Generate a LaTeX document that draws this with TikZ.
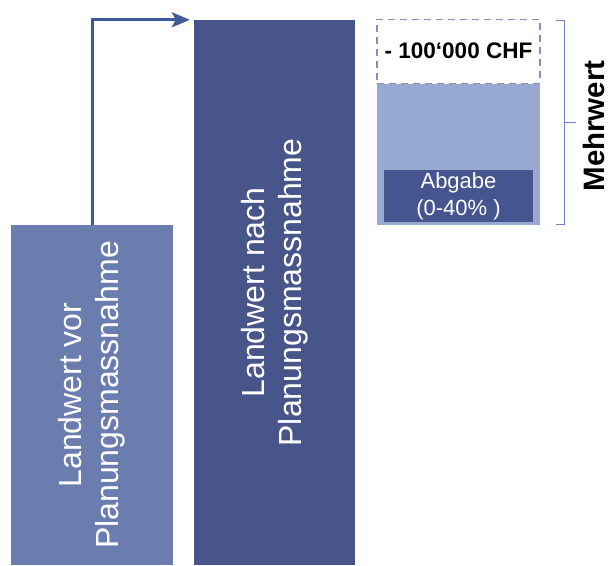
\documentclass[tikz,border=0pt]{standalone}
\usepackage{fontspec}
\setmainfont{Liberation Sans}
\usetikzlibrary{arrows.meta}
\usetikzlibrary{positioning}
\usetikzlibrary{calc}

\definecolor{vorblue}{HTML}{6B7DAE}
\definecolor{nachblue}{HTML}{48558A}
\definecolor{mehrblue}{HTML}{98AAD2}
\definecolor{abgabeblue}{HTML}{46558F}
\definecolor{arrowblue}{HTML}{3F5A99}
\definecolor{braceblue}{HTML}{6F80C4}
\definecolor{dashgrey}{HTML}{8C8CBC}

\tikzset{
  bar/.style={rotate=90, text=white, align=center, inner sep=0pt,
    font=\fontsize{32}{37}\selectfont},
  box/.style={minimum width=163pt, inner sep=0pt, align=center},
  brace/.style={braceblue, line width=1pt}
}

\begin{document}
\begin{tikzpicture}[x=1pt,y=-1pt]
\useasboundingbox (0,0) rectangle (610,565);
% the two land values
\node [bar, fill=vorblue, minimum width=340pt, minimum height=162pt] (vor) at (92,395) {Landwert vor\\Planungsmassnahme};
\node [bar, fill=nachblue, minimum width=545pt, minimum height=161pt] (nach) at (274.5,292.5) {Landwert nach\\Planungsmassnahme};
\draw [arrowblue, line width=3pt, -{Stealth[length=18pt,width=15pt,inset=4pt]}, shorten >=4pt] (vor.east) |- (nach.north east);
% the added value
\node [box, fill=mehrblue, minimum height=141pt] (mehr) at (458.5,154.5) {};
\node [box, draw=dashgrey, line width=1.2pt, dash pattern=on 7pt off 5pt, minimum height=64pt, above=0pt of mehr,
  font=\bfseries\fontsize{22.5}{26}\selectfont] (abzug) {- 100‘000 CHF};
\node [fill=abgabeblue, text=white, minimum width=149pt, minimum height=52pt, inner sep=0pt, align=center,
  font=\fontsize{22}{27}\selectfont] (abgabe) at (458.5,196) {Abgabe\\(0-40\% )};
\coordinate (btop) at (564,20);
\coordinate (bbot) at (564,224);
\draw [brace] ([xshift=-8pt]btop) -- (btop) -- (bbot) -- ([xshift=-8pt]bbot);
\draw [brace] ($(btop)!0.5!(bbot)$) -- ++(12,0);
\node [rotate=90, inner sep=0pt, font=\bfseries\fontsize{29.5}{35}\selectfont] (mehrwert) at (594,126) {Mehrwert};
\end{tikzpicture}
\end{document}
